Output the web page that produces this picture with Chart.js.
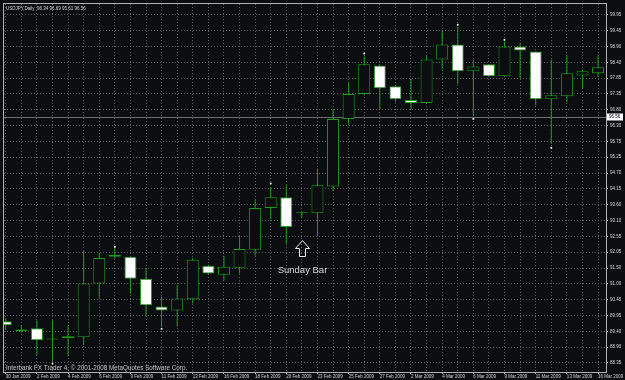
<!DOCTYPE html>
<html>
<head>
<meta charset="utf-8">
<title>USDJPY Daily</title>
<style>
    html, body { margin: 0; padding: 0; background: #0c0d10; }
    #chartDiv { width: 625px; height: 380px; }
</style>
<script src="https://cdn.jsdelivr.net/npm/chart.js@4.4.1/dist/chart.umd.min.js"></script>
</head>
<body>
<div id="chartDiv"><canvas id="canvas-0" width="625" height="380"></canvas></div>
<script>
    // one entry per daily bar, Sunday bars included
    var dates = ['30 Jan 2009', '1 Feb 2009', '2 Feb 2009', '3 Feb 2009', '4 Feb 2009', '5 Feb 2009', '6 Feb 2009',
        '8 Feb 2009', '9 Feb 2009', '10 Feb 2009', '11 Feb 2009', '12 Feb 2009', '13 Feb 2009',
        '15 Feb 2009', '16 Feb 2009', '17 Feb 2009', '18 Feb 2009', '19 Feb 2009', '20 Feb 2009',
        '22 Feb 2009', '23 Feb 2009', '24 Feb 2009', '25 Feb 2009', '26 Feb 2009', '27 Feb 2009',
        '1 Mar 2009', '2 Mar 2009', '3 Mar 2009', '4 Mar 2009', '5 Mar 2009', '6 Mar 2009',
        '8 Mar 2009', '9 Mar 2009', '10 Mar 2009', '11 Mar 2009', '12 Mar 2009', '13 Mar 2009',
        '15 Mar 2009', '16 Mar 2009'];
    var opens = [89.74, 89.41, 89.51, 89.13, 89.18, 89.21, 91.00, 91.95, 91.89, 91.16, 90.23, 90.10, 90.47,
        91.59, 91.29, 91.52, 92.12, 93.51, 93.87, 93.34, 93.34, 94.23, 96.48, 97.31, 98.26,
        97.57, 97.11, 97.01, 98.46, 98.96, 98.07, 98.30, 97.90, 98.89, 98.73, 97.14, 97.24, 97.93, 98.00];
    var highs = [89.84, 89.61, 89.77, 89.77, 89.61, 92.08, 92.02, 92.18, 91.89, 91.49, 90.56, 90.96, 91.85,
        91.62, 91.92, 92.58, 93.80, 94.20, 94.27, 93.40, 94.83, 96.81, 97.70, 98.56, 98.26,
        97.57, 97.84, 98.56, 99.45, 99.55, 98.46, 98.30, 99.06, 99.02, 98.73, 98.46, 98.60, 98.13, 98.60];
    var lows = [89.44, 89.37, 88.62, 88.40, 88.58, 88.95, 90.53, 91.82, 90.66, 89.90, 89.55, 89.57, 90.33,
        91.30, 91.10, 91.33, 91.92, 93.14, 92.32, 93.18, 92.61, 94.07, 96.28, 97.27, 96.78,
        97.04, 96.81, 97.01, 98.13, 97.64, 96.58, 97.90, 97.90, 97.84, 96.94, 95.65, 97.04, 97.47, 97.87];
    var closes = [89.61, 89.47, 89.11, 89.16, 89.24, 91.00, 91.85, 91.89, 91.16, 90.27, 90.10, 90.50, 91.79,
        91.33, 91.56, 92.15, 93.51, 93.87, 92.88, 93.37, 94.27, 96.48, 97.31, 98.30, 97.50,
        97.14, 97.01, 98.46, 98.96, 98.07, 98.23, 97.90, 98.89, 98.76, 97.14, 97.27, 98.00, 98.07, 98.20];

    // small white marks above / below some bars
    var markBars = [3, 7, 10, 17, 23, 29, 30, 32, 35];
    var markPrices = [88.33, 92.22, 89.49, 94.33, 98.66, 99.62, 96.48, 99.12, 95.52];

    var priceLabels = ['99.95', '99.45', '98.90', '98.40', '97.85', '97.35', '96.80', '96.30', '95.75', '95.25',
        '94.70', '94.15', '93.60', '93.10', '92.55', '92.05', '91.50', '91.00', '90.45', '89.95',
        '89.40', '88.90', '88.35'];
    var lastPrice = 96.56;
    var headerText = 'USDJPY,Daily  96.34 96.69 95.61 96.56';
    var footerText = 'Interbank FX Trader 4, \u00a9 2001-2008 MetaQuotes Software Corp.';
    var noteText = 'Sunday Bar';
    var noteBar = 19;

    var chartColors = {
        background: '#0c0d10',
        grid: '#5e5e5e',
        candle: '#18a018',
        bearBody: '#ffffff',
        axis: '#b0b0b0',
        text: '#d4d4d4',
        priceLine: '#6e6e6e'
    };
    var fontFamily = "'Liberation Sans', Arial, sans-serif";

    // grid rows are evenly spaced between the top and bottom label
    var priceTop = parseFloat(priceLabels[0]);
    var priceBottom = parseFloat(priceLabels[priceLabels.length - 1]);
    var priceTicks = priceLabels.map(function (label, i) {
        return priceTop - i * (priceTop - priceBottom) / (priceLabels.length - 1);
    });

    function buildBodies() {
        return dates.map(function (d, i) {
            return {x: i, y: [opens[i], closes[i]]};
        });
    }

    function buildWicks() {
        return dates.map(function (d, i) {
            return {x: i, y: [lows[i], highs[i]]};
        });
    }

    function buildMarks() {
        return markBars.map(function (bar, i) {
            return {x: bar, y: markPrices[i]};
        });
    }

    var extrasPlugin = {
        id: 'mt4Extras',
        beforeDraw: function (chart) {
            var ctx = chart.ctx;
            ctx.save();
            ctx.fillStyle = chartColors.background;
            ctx.fillRect(0, 0, chart.width, chart.height);
            ctx.restore();
        },
        beforeDatasetsDraw: function (chart) {
            var ctx = chart.ctx;
            var area = chart.chartArea;
            var y = Math.round(chart.scales.y.getPixelForValue(lastPrice)) + 0.5;
            ctx.save();
            ctx.strokeStyle = chartColors.priceLine;
            ctx.lineWidth = 1;
            ctx.beginPath();
            ctx.moveTo(area.left, y);
            ctx.lineTo(area.right, y);
            ctx.stroke();
            ctx.restore();
        },
        afterDraw: function (chart) {
            var ctx = chart.ctx;
            var area = chart.chartArea;
            var xScale = chart.scales.x;
            var yScale = chart.scales.y;
            ctx.save();

            // frame
            ctx.strokeStyle = chartColors.axis;
            ctx.lineWidth = 1;
            ctx.strokeRect(Math.round(area.left) - 0.5, Math.round(area.top) - 0.5,
                Math.round(area.right - area.left) + 1, Math.round(area.bottom - area.top) + 1);

            // last price box on the price axis
            var py = Math.round(yScale.getPixelForValue(lastPrice));
            ctx.fillStyle = '#ffffff';
            ctx.fillRect(area.right + 1, py - 3.5, 16, 7);
            ctx.fillStyle = '#000000';
            ctx.font = '4.5px ' + fontFamily;
            ctx.textBaseline = 'middle';
            ctx.textAlign = 'left';
            ctx.fillText(lastPrice.toFixed(2), area.right + 3, py);

            // symbol line and copyright
            ctx.fillStyle = chartColors.text;
            ctx.font = '4.5px ' + fontFamily;
            ctx.fillText(headerText, area.left + 2, area.top + 4.5);
            ctx.fillStyle = '#c4c4c4';
            ctx.font = '6.3px ' + fontFamily;
            ctx.fillText(footerText, area.left + 2, area.bottom - 3.5);

            // hollow arrow pointing at the sunday bar
            var cx = Math.round(xScale.getPixelForValue(noteBar)) + 0.5;
            var top = Math.round(yScale.getPixelForValue(92.45)) + 0.5;
            ctx.strokeStyle = '#e6e6e6';
            ctx.lineWidth = 1;
            ctx.beginPath();
            ctx.moveTo(cx, top);
            ctx.lineTo(cx + 7, top + 8);
            ctx.lineTo(cx + 3, top + 8);
            ctx.lineTo(cx + 3, top + 16);
            ctx.lineTo(cx - 3, top + 16);
            ctx.lineTo(cx - 3, top + 8);
            ctx.lineTo(cx - 7, top + 8);
            ctx.closePath();
            ctx.stroke();

            ctx.fillStyle = '#d8d8d8';
            ctx.font = '9.5px ' + fontFamily;
            ctx.textAlign = 'center';
            ctx.fillText(noteText, cx, yScale.getPixelForValue(91.42));
            ctx.restore();
        }
    };

    function createChart() {
        var ctx = document.getElementById('canvas-0').getContext('2d');
        return new Chart(ctx, {
            type: 'bar',
            data: {
                datasets: [{
                    label: 'body',
                    data: buildBodies(),
                    backgroundColor: function (c) {
                        var i = c.dataIndex;
                        return closes[i] < opens[i] ? chartColors.bearBody : chartColors.background;
                    },
                    borderColor: chartColors.candle,
                    borderWidth: 1,
                    borderSkipped: false,
                    inflateAmount: 0,
                    barThickness: 12,
                    minBarLength: 1,
                    grouped: false,
                    order: 1
                }, {
                    label: 'wick',
                    data: buildWicks(),
                    backgroundColor: chartColors.candle,
                    borderWidth: 0,
                    inflateAmount: 0,
                    barThickness: 1,
                    grouped: false,
                    order: 2
                }, {
                    type: 'scatter',
                    label: 'marks',
                    data: buildMarks(),
                    pointStyle: 'rect',
                    pointRadius: 1.2,
                    pointBackgroundColor: '#ffffff',
                    pointBorderWidth: 0,
                    order: 0
                }]
            },
            options: {
                responsive: false,
                animation: false,
                devicePixelRatio: 1,
                layout: {padding: {left: 1, top: 1, right: 0, bottom: 0}},
                plugins: {legend: {display: false}, tooltip: {enabled: false}},
                scales: {
                    x: {
                        type: 'linear',
                        min: -0.11,
                        max: 38.51,
                        offset: false,
                        afterBuildTicks: function (scale) {
                            scale.ticks = dates.map(function (d, i) {
                                return {value: i};
                            });
                        },
                        afterFit: function (scale) {
                            scale.height = 8;
                            scale.paddingLeft = 0;
                            scale.paddingRight = 0;
                        },
                        grid: {
                            offset: false,
                            color: chartColors.grid,
                            lineWidth: 1,
                            tickLength: 2,
                            tickColor: function (c) {
                                return c.index % 2 === 0 ? chartColors.axis : 'rgba(0,0,0,0)';
                            }
                        },
                        border: {display: true, color: chartColors.axis, width: 1, dash: [1, 2]},
                        ticks: {
                            autoSkip: false,
                            maxRotation: 0,
                            align: 'start',
                            padding: 0,
                            color: chartColors.text,
                            font: {family: fontFamily, size: 4.5},
                            callback: function (value, index) {
                                return index % 2 === 0 ? dates[index] : '';
                            }
                        }
                    },
                    y: {
                        type: 'linear',
                        position: 'right',
                        min: 88.05,
                        max: 100.31,
                        afterBuildTicks: function (scale) {
                            scale.ticks = priceTicks.map(function (v) {
                                return {value: v};
                            });
                        },
                        afterFit: function (scale) {
                            scale.width = 19;
                            scale.paddingTop = 0;
                            scale.paddingBottom = 0;
                        },
                        grid: {color: chartColors.grid, lineWidth: 1, tickLength: 2, tickColor: chartColors.axis},
                        border: {display: true, color: chartColors.axis, width: 1, dash: [1, 2]},
                        ticks: {
                            autoSkip: false,
                            padding: 2,
                            color: chartColors.text,
                            font: {family: fontFamily, size: 4.5},
                            callback: function (value, index) {
                                return priceLabels[index];
                            }
                        }
                    }
                }
            },
            plugins: [extrasPlugin]
        });
    }

    createChart();
</script>
</body>
</html>
